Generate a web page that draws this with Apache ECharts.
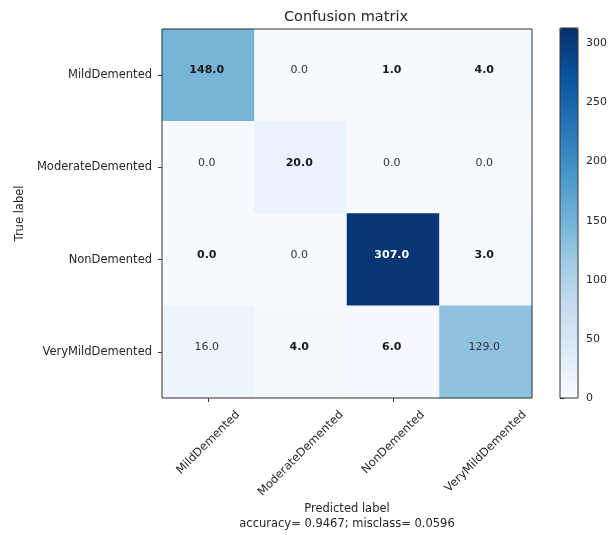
<!DOCTYPE html>
<html><head><meta charset="utf-8">
<script src="https://cdn.jsdelivr.net/npm/echarts@6/dist/echarts.min.js"></script>
<style>html,body{margin:0;padding:0;background:#fff}#c{width:611px;height:535px}</style>
</head><body><div id="c"></div>
<script>
// ---- data ----
const classes = ['MildDemented', 'ModerateDemented', 'NonDemented', 'VeryMildDemented'];
const rowMild = [148, 0, 1, 4];
const rowModerate = [0, 20, 0, 0];
const rowNon = [0, 0, 307, 3];
const rowVeryMild = [16, 4, 6, 129];
const matrix = [rowMild, rowModerate, rowNon, rowVeryMild];
const colorbarTicks = [0, 50, 100, 150, 200, 250, 300];
const colorbarMax = 313;
const accuracy = 0.9467;
const misclass = 0.0596;
const titleText = 'Confusion matrix';
const xName = 'Predicted label';
const yName = 'True label';
// cells whose text appears bold in the reference [row, col]
const boldCells = [[0,0],[0,2],[0,3],[1,1],[2,0],[2,2],[2,3],[3,1],[3,2]];

// ---- style ----
const FONT = 'DejaVu Sans';
const TXT = '#262626';
const blues = ['#f7fbff','#deebf7','#c6dbef','#9ecae1','#6baed6','#4292c6','#2171b5','#08519c','#08306b'];
const G = {left: 162, top: 29, width: 370, height: 369};
const labelSize = 11.5;

const heatData = [];
matrix.forEach((row, r) => row.forEach((v, c) => heatData.push([c, r, v])));
const boldSet = new Set(boldCells.map(a => a[0] + '_' + a[1]));
const thresh = Math.max(...matrix.flat()) / 2;

// measure text to place rotated labels centred under ticks (matplotlib rotation=45, ha=center)
const ctx = document.createElement('canvas').getContext('2d');
ctx.font = labelSize + 'px "' + FONT + '"';
const labelAxes = classes.map((name, i) => {
  const w = ctx.measureText(name).width;
  const margin = 11 + (w + 11) * Math.SQRT1_2 / 2;
  return {
    type: 'category', gridIndex: 0, position: 'bottom', data: classes,
    axisLine: {show: false}, axisTick: {show: false}, splitLine: {show: false},
    axisLabel: {
      interval: (idx) => idx === i, rotate: 45, align: 'center', verticalAlign: 'middle',
      margin: margin, fontFamily: FONT, fontSize: labelSize, color: TXT
    }
  };
});

const chart = echarts.init(document.getElementById('c'), null, {renderer: 'canvas'});
chart.setOption({
  backgroundColor: '#fff',
  animation: false,
  title: {
    text: titleText, left: G.left + G.width / 2 - 1, top: 10, textAlign: 'center', padding: 0,
    textStyle: {fontFamily: FONT, fontSize: 14.5, fontWeight: 'normal', color: TXT}
  },
  grid: [
    {left: G.left, top: G.top, width: G.width, height: G.height, show: true, z: 10,
     backgroundColor: 'transparent', borderColor: '#333', borderWidth: 1,
     containLabel: false, outerBoundsMode: 'none'},
    {left: 560, top: 28, width: 18, height: 370, show: true, z: 10,
     backgroundColor: 'transparent', borderColor: '#333', borderWidth: 1,
     containLabel: false, outerBoundsMode: 'none'}
  ],
  xAxis: [
    {type: 'category', gridIndex: 0, position: 'bottom', data: classes,
     axisLine: {show: false}, splitLine: {show: false},
     axisTick: {show: true, alignWithLabel: true, length: 4, lineStyle: {color: '#333'}},
     axisLabel: {show: false},
     name: xName + '\n' + 'accuracy= ' + accuracy.toFixed(4) + '; misclass= ' + misclass.toFixed(4),
     nameLocation: 'middle', nameGap: 104,
     nameTextStyle: {fontFamily: FONT, fontSize: labelSize, color: TXT, lineHeight: 15}},
    ...labelAxes,
    {type: 'value', gridIndex: 1, min: 0, max: 1, show: false}
  ],
  yAxis: [
    {type: 'category', gridIndex: 0, data: classes, inverse: true,
     axisLine: {show: false}, splitLine: {show: false},
     axisTick: {show: true, alignWithLabel: true, length: 4, lineStyle: {color: '#333'}},
     axisLabel: {margin: 10, fontFamily: FONT, fontSize: labelSize, color: TXT},
     name: yName, nameLocation: 'middle', nameGap: 133,
     nameTextStyle: {fontFamily: FONT, fontSize: labelSize, color: TXT}},
    {type: 'value', gridIndex: 1, position: 'right', min: 0, max: colorbarMax,
     axisLine: {show: false}, splitLine: {show: false},
     axisTick: {show: true, length: 4, customValues: colorbarTicks, lineStyle: {color: '#333'}},
     axisLabel: {margin: 8, customValues: colorbarTicks, fontFamily: FONT, fontSize: 11, color: TXT}}
  ],
  visualMap: {
    type: 'continuous', min: 0, max: colorbarMax, seriesIndex: 0, calculable: false,
    orient: 'vertical', left: 560, top: 28, itemWidth: 18, itemHeight: 370, padding: 0,
    hoverLink: false, inRange: {color: blues}
  },
  series: [{
    type: 'heatmap', xAxisIndex: 0, yAxisIndex: 0, data: heatData,
    emphasis: {disabled: true},
    label: {
      show: true, fontFamily: FONT, fontSize: 11, offset: [-1.5, -4.5],
      formatter: (p) => {
        const [c, r, v] = p.value;
        let k = boldSet.has(r + '_' + c) ? 'b' : 'n';
        if (v > thresh) k = 'w';
        return '{' + k + '|' + v.toFixed(1) + '}';
      },
      rich: {
        b: {fontFamily: FONT, fontSize: 11, fontWeight: 'bold', color: '#1a1a1a'},
        n: {fontFamily: FONT, fontSize: 11, color: '#333'},
        w: {fontFamily: FONT, fontSize: 11, fontWeight: 'bold', color: '#fff'}
      }
    }
  }]
});
</script></body></html>
